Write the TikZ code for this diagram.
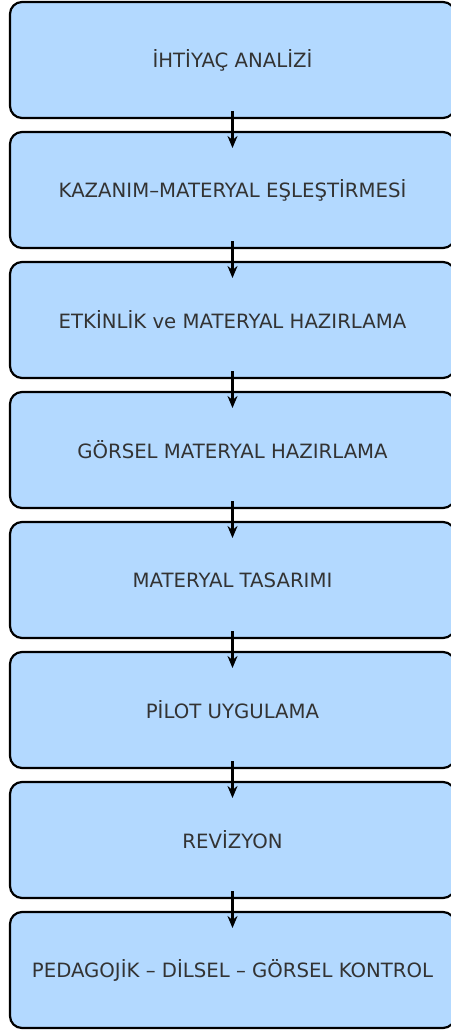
\documentclass[tikz,border=0pt]{standalone}
\usepackage{fontspec}
\setmainfont{DejaVu Sans}
\usetikzlibrary{positioning,arrows.meta}
\definecolor{boxblue}{RGB}{179,217,255}
\definecolor{textgray}{RGB}{51,51,51}
\tikzset{
	stagebox/.style={draw=black, line width=2.2pt, fill=boxblue, rounded corners=12pt,
		minimum width=445pt, minimum height=116pt, outer sep=0pt, inner sep=0pt,
		text=textgray, font=\fontsize{19.7}{23}\selectfont},
	flowarrow/.style={-{Stealth[length=12pt,width=10pt]}, line width=2.6pt, black}
}

\begin{document}
\begin{tikzpicture}[x=1pt, y=1pt, node distance=14pt]
			%%%%% START %%%%%
			
			\useasboundingbox (0, 0) rectangle (450, -1030);
			
			\node[stagebox] (ihtiyac) at (232.5, -60) {İHTİYAÇ ANALİZİ};
			\node[stagebox, below=of ihtiyac] (kazanim) {KAZANIM–MATERYAL EŞLEŞTİRMESİ};
			\node[stagebox, below=of kazanim] (etkinlik) {ETKİNLİK ve MATERYAL HAZIRLAMA};
			\node[stagebox, below=of etkinlik] (gorsel) {GÖRSEL MATERYAL HAZIRLAMA};
			\node[stagebox, below=of gorsel] (tasarim) {MATERYAL TASARIMI};
			\node[stagebox, below=of tasarim] (pilot) {PİLOT UYGULAMA};
			\node[stagebox, below=of pilot] (revizyon) {REVİZYON};
			\node[stagebox, below=of revizyon] (kontrol) {PEDAGOJİK – DİLSEL – GÖRSEL KONTROL};
			
			\draw[flowarrow] ([yshift=7pt]ihtiyac.south) -- ([yshift=-16pt]kazanim.north);
			\draw[flowarrow] ([yshift=7pt]kazanim.south) -- ([yshift=-16pt]etkinlik.north);
			\draw[flowarrow] ([yshift=7pt]etkinlik.south) -- ([yshift=-16pt]gorsel.north);
			\draw[flowarrow] ([yshift=7pt]gorsel.south) -- ([yshift=-16pt]tasarim.north);
			\draw[flowarrow] ([yshift=7pt]tasarim.south) -- ([yshift=-16pt]pilot.north);
			\draw[flowarrow] ([yshift=7pt]pilot.south) -- ([yshift=-16pt]revizyon.north);
			\draw[flowarrow] ([yshift=7pt]revizyon.south) -- ([yshift=-16pt]kontrol.north);
			
			%%%%% END %%%%%
\end{tikzpicture}
\end{document}
